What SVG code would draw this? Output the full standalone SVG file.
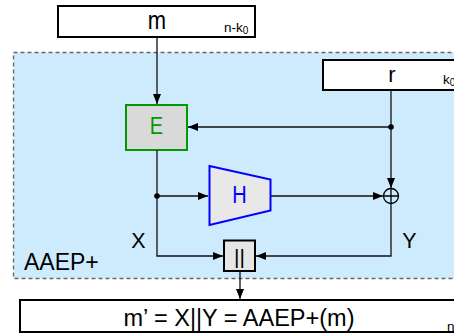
<svg xmlns="http://www.w3.org/2000/svg" width="454" height="336" viewBox="0 0 454 336">
<style>
text{font-family:"Liberation Sans",Arial,sans-serif;fill:#000}
.box{fill:#fff;stroke:#000;stroke-width:2}
.ln{fill:none;stroke:#111;stroke-width:1.3}
.big{font-size:22px}
.sub{font-size:13.5px}
.sub0{font-size:10px}
</style>
<defs>
<marker id="ah" viewBox="0 0 10 10" refX="10" refY="5" markerWidth="10" markerHeight="10" markerUnits="userSpaceOnUse" orient="auto">
<path d="M0,1 L10,5 L0,9 Z" fill="#000"/>
</marker>
</defs>
<g id="aaep-region">
<rect x="13.5" y="52.5" width="460" height="226" fill="#cdebfd" stroke="#666" stroke-width="1.3" stroke-dasharray="4 3"/>
<text x="24" y="270" font-size="23">AAEP+</text>
</g>
<g id="m">
<rect class="box" x="58" y="6" width="197" height="31"/>
<text class="big" x="157" y="29" text-anchor="middle" transform="translate(0,-4.5) scale(1,1.15)">m</text>
<text class="sub" x="224" y="32">n-k<tspan class="sub0" dy="2">0</tspan></text>
</g>
<g id="r">
<rect class="box" x="323" y="60" width="150" height="30"/>
<text class="big" x="392" y="82" text-anchor="middle">r</text>
<text class="sub" x="443" y="84">k<tspan class="sub0" dy="2">0</tspan></text>
</g>
<g id="E">
<rect x="126" y="105" width="61" height="45" fill="#d9d9d9" stroke="#009900" stroke-width="2"/>
<text x="156.5" y="134.3" font-size="20" text-anchor="middle" style="fill:#009900" transform="translate(0,-22) scale(1,1.165)">E</text>
</g>
<g id="H">
<polygon points="209.5,166 270.5,179.5 270.5,210.5 209.5,225" fill="#e8e8e8" stroke="#0000ff" stroke-width="2"/>
<text x="239.5" y="202.7" font-size="20" text-anchor="middle" style="fill:#0000ff" transform="translate(0,-31) scale(1,1.153)">H</text>
</g>
<g id="xor">
<circle cx="391" cy="196" r="7.5" fill="none" stroke="#000" stroke-width="1.3"/>
<path d="M383.5,196 H398.5 M391,188.5 V203.5" stroke="#000" stroke-width="1.3"/>
</g>
<g id="concat">
<rect x="224" y="240.5" width="31" height="30.5" fill="#e6e6e6" stroke="#000" stroke-width="2"/>
<text x="239.5" y="264" font-size="21" text-anchor="middle">||</text>
</g>
<g id="out">
<rect class="box" x="20" y="300" width="460" height="32"/>
<text x="239" y="326" font-size="23.5" text-anchor="middle">m’ = X||Y = AAEP+(m)</text>
<text class="sub" x="447" y="331">n</text>
</g>
<g id="labels">
<text x="138.5" y="247.5" font-size="21.5" text-anchor="middle">X</text>
<text x="409.5" y="247.5" font-size="21.5" text-anchor="middle">Y</text>
</g>
<g id="connectors">
<path class="ln" d="M157,37 V104" marker-end="url(#ah)"/>
<path class="ln" d="M391,90 V188" marker-end="url(#ah)"/>
<path class="ln" d="M391,127 H188" marker-end="url(#ah)"/>
<path class="ln" d="M157,150 V256 H223" marker-end="url(#ah)"/>
<path class="ln" d="M157,196 H208" marker-end="url(#ah)"/>
<path class="ln" d="M271,196 H383" marker-end="url(#ah)"/>
<path class="ln" d="M391,204 V256 H256" marker-end="url(#ah)"/>
<path class="ln" d="M240,271 V299" marker-end="url(#ah)"/>
<circle cx="391" cy="127" r="2.8" fill="#000"/>
<circle cx="157" cy="196" r="2.8" fill="#000"/>
</g>
</svg>
